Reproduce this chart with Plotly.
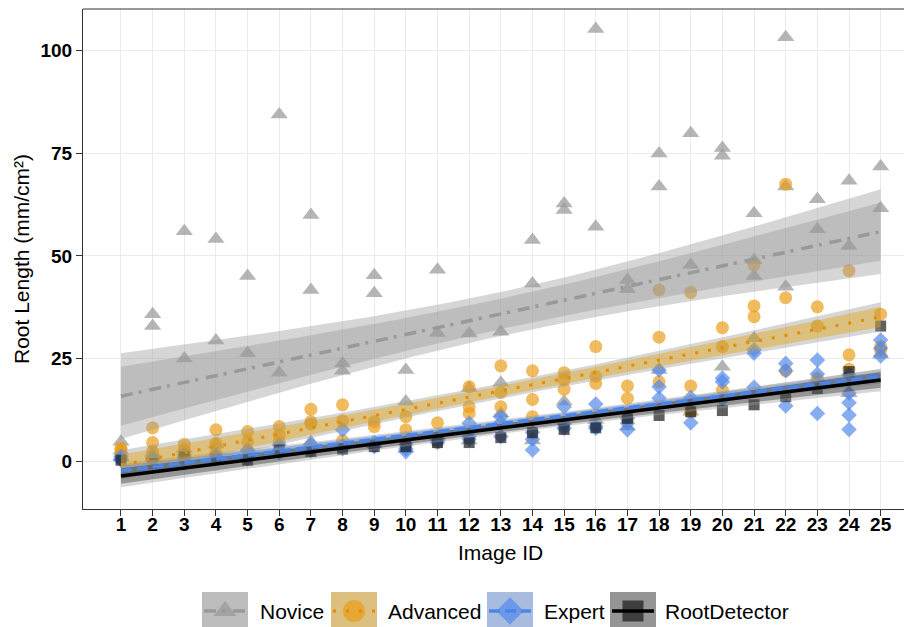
import numpy as np
import plotly.graph_objects as go

# ---------------- data ----------------
image_ids = list(range(1, 26))
tick_labels = [str(i) for i in image_ids]
y_ticks = [0, 25, 50, 75, 100]

novice = [
    [4.7, 2.5, 1.0], [35.8, 32.9, 2.0], [56.0, 25.0, 3.0], [54.1, 29.4, 4.0],
    [45.1, 26.3, 3.0], [84.5, 21.5, 3.0], [60.0, 41.7, 4.7], [23.8, 22.0, 4.0],
    [45.3, 40.9, 4.0], [22.2, 14.5, 3.0], [46.6, 31.2, 6.0], [31.1, 17.8, 5.0],
    [31.5, 19.1, 11.6], [53.9, 43.3, 5.0], [62.8, 61.2, 14.5], [105.3, 57.1, 10.0],
    [44.1, 41.9, 8.4], [75.0, 66.9, 22.2], [79.9, 47.8, 12.0], [76.3, 74.4, 23.0],
    [60.4, 49.0, 45.1, 29.9], [103.3, 66.9, 42.5], [63.8, 56.5, 20.2],
    [68.3, 52.4, 16.5], [71.8, 61.6, 25.9],
]
advanced = [
    [3.1, 2.7, 1.5], [8.1, 4.5, 2.3], [4.1, 2.7, 1.5], [7.6, 4.3, 2.0],
    [7.2, 4.7, 2.0], [8.4, 6.3, 4.7], [12.6, 9.6, 9.0], [13.7, 9.8, 5.0],
    [9.6, 8.4, 4.0], [10.8, 7.6, 4.0], [9.3, 4.5, 6.0], [18.1, 13.2, 11.6],
    [23.2, 16.7, 13.2], [22.0, 15.0, 10.8], [21.5, 19.9, 17.5], [27.9, 20.6, 18.9],
    [18.3, 15.3, 10.0], [41.7, 30.2, 19.3], [41.1, 18.3, 12.0], [32.5, 27.9, 17.3],
    [47.8, 37.8, 35.2], [67.5, 39.8, 22.0], [37.6, 32.9, 20.2], [46.4, 25.9, 22.4],
    [35.8, 27.9, 27.0],
]
expert = [
    [1.1, 0.5, 0.2], [0.2, 0.8, 0.5], [1.0, 0.5, 1.5], [1.0, 1.5, 0.8],
    [2.7, 1.0, 0.5], [3.9, 2.5, 2.0], [4.0, 3.0, 2.5], [7.6, 3.5, 3.0],
    [4.0, 3.5, 4.5], [2.3, 3.0, 4.0], [5.0, 4.5, 5.5], [9.2, 5.3, 6.0],
    [10.8, 9.3, 6.0], [5.3, 2.7, 7.0], [13.2, 8.0, 9.0], [13.9, 8.0, 8.5],
    [9.2, 7.6, 10.5], [22.2, 18.1, 15.3], [9.3, 14.5, 15.5], [20.2, 19.3, 15.0],
    [27.1, 26.3, 18.0], [23.8, 22.0, 13.4], [24.6, 21.2, 11.6],
    [21.0, 16.6, 14.2, 11.2, 7.7], [29.5, 27.5, 25.6],
]
rootdetector = [
    0.2, -0.6, 1.0, 0.5, 0.2, 2.7, 2.3, 2.9, 3.5, 3.5, 4.5, 4.5, 5.7,
    6.9, 7.7, 8.1, 10.4, 11.1, 12.0, 12.3, 13.7, 15.7, 17.7, 21.8, 32.9,
]

groups = ["Novice", "Advanced", "Expert", "RootDetector"]
values = {
    "Novice": novice,
    "Advanced": advanced,
    "Expert": expert,
    "RootDetector": [[v] for v in rootdetector],
}

# ---------------- styles ----------------
FONT = "Arial, Liberation Sans, Helvetica, sans-serif"
GREY_BAND = "rgba(153,153,153,0.4)"
style = {
    "Novice": dict(symbol="triangle-up", size=15, mcolor="rgba(153,153,153,0.72)",
                   lcolor="#999999", dash="12px,6px,3px,8px", lwidth=3.5,
                   band="rgba(153,153,153,0.4)"),
    "Advanced": dict(symbol="circle", size=13, mcolor="rgba(235,155,20,0.68)",
                     lcolor="#E68A00", dash="3px,10px", lwidth=3,
                     band="rgba(230,159,0,0.4)"),
    "Expert": dict(symbol="diamond", size=12, mcolor="rgba(80,135,235,0.68)",
                   lcolor="#4A86E8", dash="11px,5px", lwidth=3.5,
                   band="rgba(100,149,237,0.4)"),
    "RootDetector": dict(symbol="square", size=11, mcolor="rgba(20,20,20,0.68)",
                         lcolor="#000000", dash="solid", lwidth=3.5,
                         band="rgba(0,0,0,0.3)"),
}


def flat(group):
    xs, ys = [], []
    for i, vals in zip(image_ids, values[group]):
        for v in vals:
            xs.append(i)
            ys.append(v)
    return np.array(xs, float), np.array(ys, float)


def t975(df):
    z = 1.959964
    return (z + (z**3 + z) / (4 * df) + (5 * z**5 + 16 * z**3 + 3 * z) / (96 * df**2)
            + (3 * z**7 + 19 * z**5 + 17 * z**3 - 15 * z) / (384 * df**3))


def lm_fit(xs, ys):
    n = len(xs)
    b, a = np.polyfit(xs, ys, 1)
    resid = ys - (a + b * xs)
    s = np.sqrt(np.sum(resid**2) / (n - 2))
    xbar = xs.mean()
    sxx = np.sum((xs - xbar) ** 2)
    grid = np.linspace(min(image_ids), max(image_ids), 80)
    yhat = a + b * grid
    se = s * np.sqrt(1.0 / n + (grid - xbar) ** 2 / sxx)
    return grid, yhat, se * t975(n - 2)


fig = go.Figure()

# points
for g in groups:
    xs, ys = flat(g)
    st = style[g]
    fig.add_trace(go.Scatter(
        x=xs, y=ys, mode="markers", showlegend=False, hoverinfo="skip",
        marker=dict(symbol=st["symbol"], size=st["size"], color=st["mcolor"],
                    line=dict(width=0)),
    ))

fits = {g: lm_fit(*flat(g)) for g in groups}
RATIO = 1.45

# outer grey bands
for g in groups:
    grid, yhat, half = fits[g]
    fig.add_trace(go.Scatter(
        x=np.concatenate([grid, grid[::-1]]),
        y=np.concatenate([yhat + half, (yhat - half)[::-1]]),
        fill="toself", fillcolor=GREY_BAND, line=dict(width=0),
        mode="lines", showlegend=False, hoverinfo="skip"))
# inner coloured bands
for g in groups:
    grid, yhat, half = fits[g]
    h2 = half / RATIO
    fig.add_trace(go.Scatter(
        x=np.concatenate([grid, grid[::-1]]),
        y=np.concatenate([yhat + h2, (yhat - h2)[::-1]]),
        fill="toself", fillcolor=style[g]["band"], line=dict(width=0),
        mode="lines", showlegend=False, hoverinfo="skip"))
# fit lines
for g in groups:
    grid, yhat, half = fits[g]
    st = style[g]
    fig.add_trace(go.Scatter(
        x=grid, y=yhat, mode="lines", showlegend=False, hoverinfo="skip",
        line=dict(color=st["lcolor"], width=st["lwidth"], dash=st["dash"])))

# ---------------- layout geometry ----------------
# the page body adds an 8 px offset; the figure is sized so it ends at the window edge
OFF = 8
W, H = 912 - OFF, 627 - OFF
ML, MT = 83 - OFF, 9 - OFF
PW, PH = W - ML, H - MT
PANEL_BOTTOM = 509 - OFF
y_dom0 = (H - PANEL_BOTTOM) / PH


def px_x(p):
    return (p - OFF - ML) / PW


def px_y(p):
    return (H - (p - OFF)) / PH


# manual legend (keys drawn on an overlay axis measured in window pixels)
key_x = [225, 354, 510, 633]
text_x = [258, 386, 542, 663]
KEY_W = 46
KEY_Y0, KEY_Y1 = 592, 627
KEY_YC = 611
legend_marker_size = {"Novice": 20, "Advanced": 22, "Expert": 21, "RootDetector": 21}

shapes = []
for g, cx in zip(groups, key_x):
    for fc in (GREY_BAND, style[g]["band"]):
        shapes.append(dict(type="rect", xref="x2", yref="y2",
                           x0=cx - KEY_W / 2, x1=cx + KEY_W / 2,
                           y0=KEY_Y0, y1=KEY_Y1, fillcolor=fc,
                           line=dict(width=0), layer="below"))
for g, cx in zip(groups, key_x):
    st = style[g]
    fig.add_trace(go.Scatter(
        x=[cx], y=[KEY_YC], xaxis="x2", yaxis="y2", mode="markers",
        showlegend=False, hoverinfo="skip",
        marker=dict(symbol=st["symbol"], size=legend_marker_size[g],
                    color=st["mcolor"], line=dict(width=0))))
    fig.add_trace(go.Scatter(
        x=[cx - KEY_W / 2 + 2, cx + KEY_W / 2 - 2], y=[KEY_YC, KEY_YC],
        xaxis="x2", yaxis="y2", mode="lines", showlegend=False, hoverinfo="skip",
        line=dict(color=st["lcolor"], width=st["lwidth"], dash=st["dash"])))

# top border of the panel
shapes.append(dict(type="line", xref="paper", yref="paper", x0=0, x1=1,
                   y0=1, y1=1, line=dict(color="#333333", width=1.2)))

annotations = []
for g, tx in zip(groups, text_x):
    annotations.append(dict(text=g, xref="paper", yref="paper",
                            x=px_x(tx), y=px_y(KEY_YC), xanchor="left",
                            yanchor="middle", showarrow=False,
                            font=dict(family=FONT, size=21, color="#000000")))
annotations.append(dict(text="Image ID", xref="paper", yref="paper",
                        x=px_x(500), y=px_y(552), xanchor="center",
                        yanchor="middle", showarrow=False,
                        font=dict(family=FONT, size=21, color="#000000")))
annotations.append(dict(text="Root Length (mm/cm²)", xref="paper", yref="paper",
                        x=px_x(22), y=px_y(259), xanchor="center",
                        yanchor="middle", textangle=-90, showarrow=False,
                        font=dict(family=FONT, size=21, color="#000000")))

fig.update_layout(
    width=W, height=H,
    margin=dict(l=ML, r=0, t=MT, b=0, pad=0),
    paper_bgcolor="white", plot_bgcolor="white",
    showlegend=False,
    shapes=shapes, annotations=annotations,
    xaxis=dict(range=[-0.2, 25.99], tickvals=image_ids, ticktext=tick_labels,
               showgrid=True, gridcolor="#EBEBEB", gridwidth=1, zeroline=False,
               showline=True, linecolor="#333333", linewidth=1.2,
               ticks="outside", ticklen=6, tickcolor="#333333", tickwidth=1.2,
               ticklabelstandoff=-8,
               tickfont=dict(family=FONT, size=19, color="#000000", weight="bold"),
               anchor="y"),
    yaxis=dict(domain=[y_dom0, 1], range=[-11.7, 110.2], tickvals=y_ticks,
               showgrid=True, gridcolor="#EBEBEB", gridwidth=1, zeroline=False,
               showline=True, linecolor="#333333", linewidth=1.2,
               ticks="outside", ticklen=6, tickcolor="#333333", tickwidth=1.2,
               tickfont=dict(family=FONT, size=19, color="#000000", weight="bold"),
               anchor="x"),
    xaxis2=dict(domain=[0, 1], range=[83, 912], visible=False, anchor="y2"),
    yaxis2=dict(domain=[0, y_dom0], range=[627, 509], visible=False,
                anchor="x2"),
)

fig.write_html("out.html")
